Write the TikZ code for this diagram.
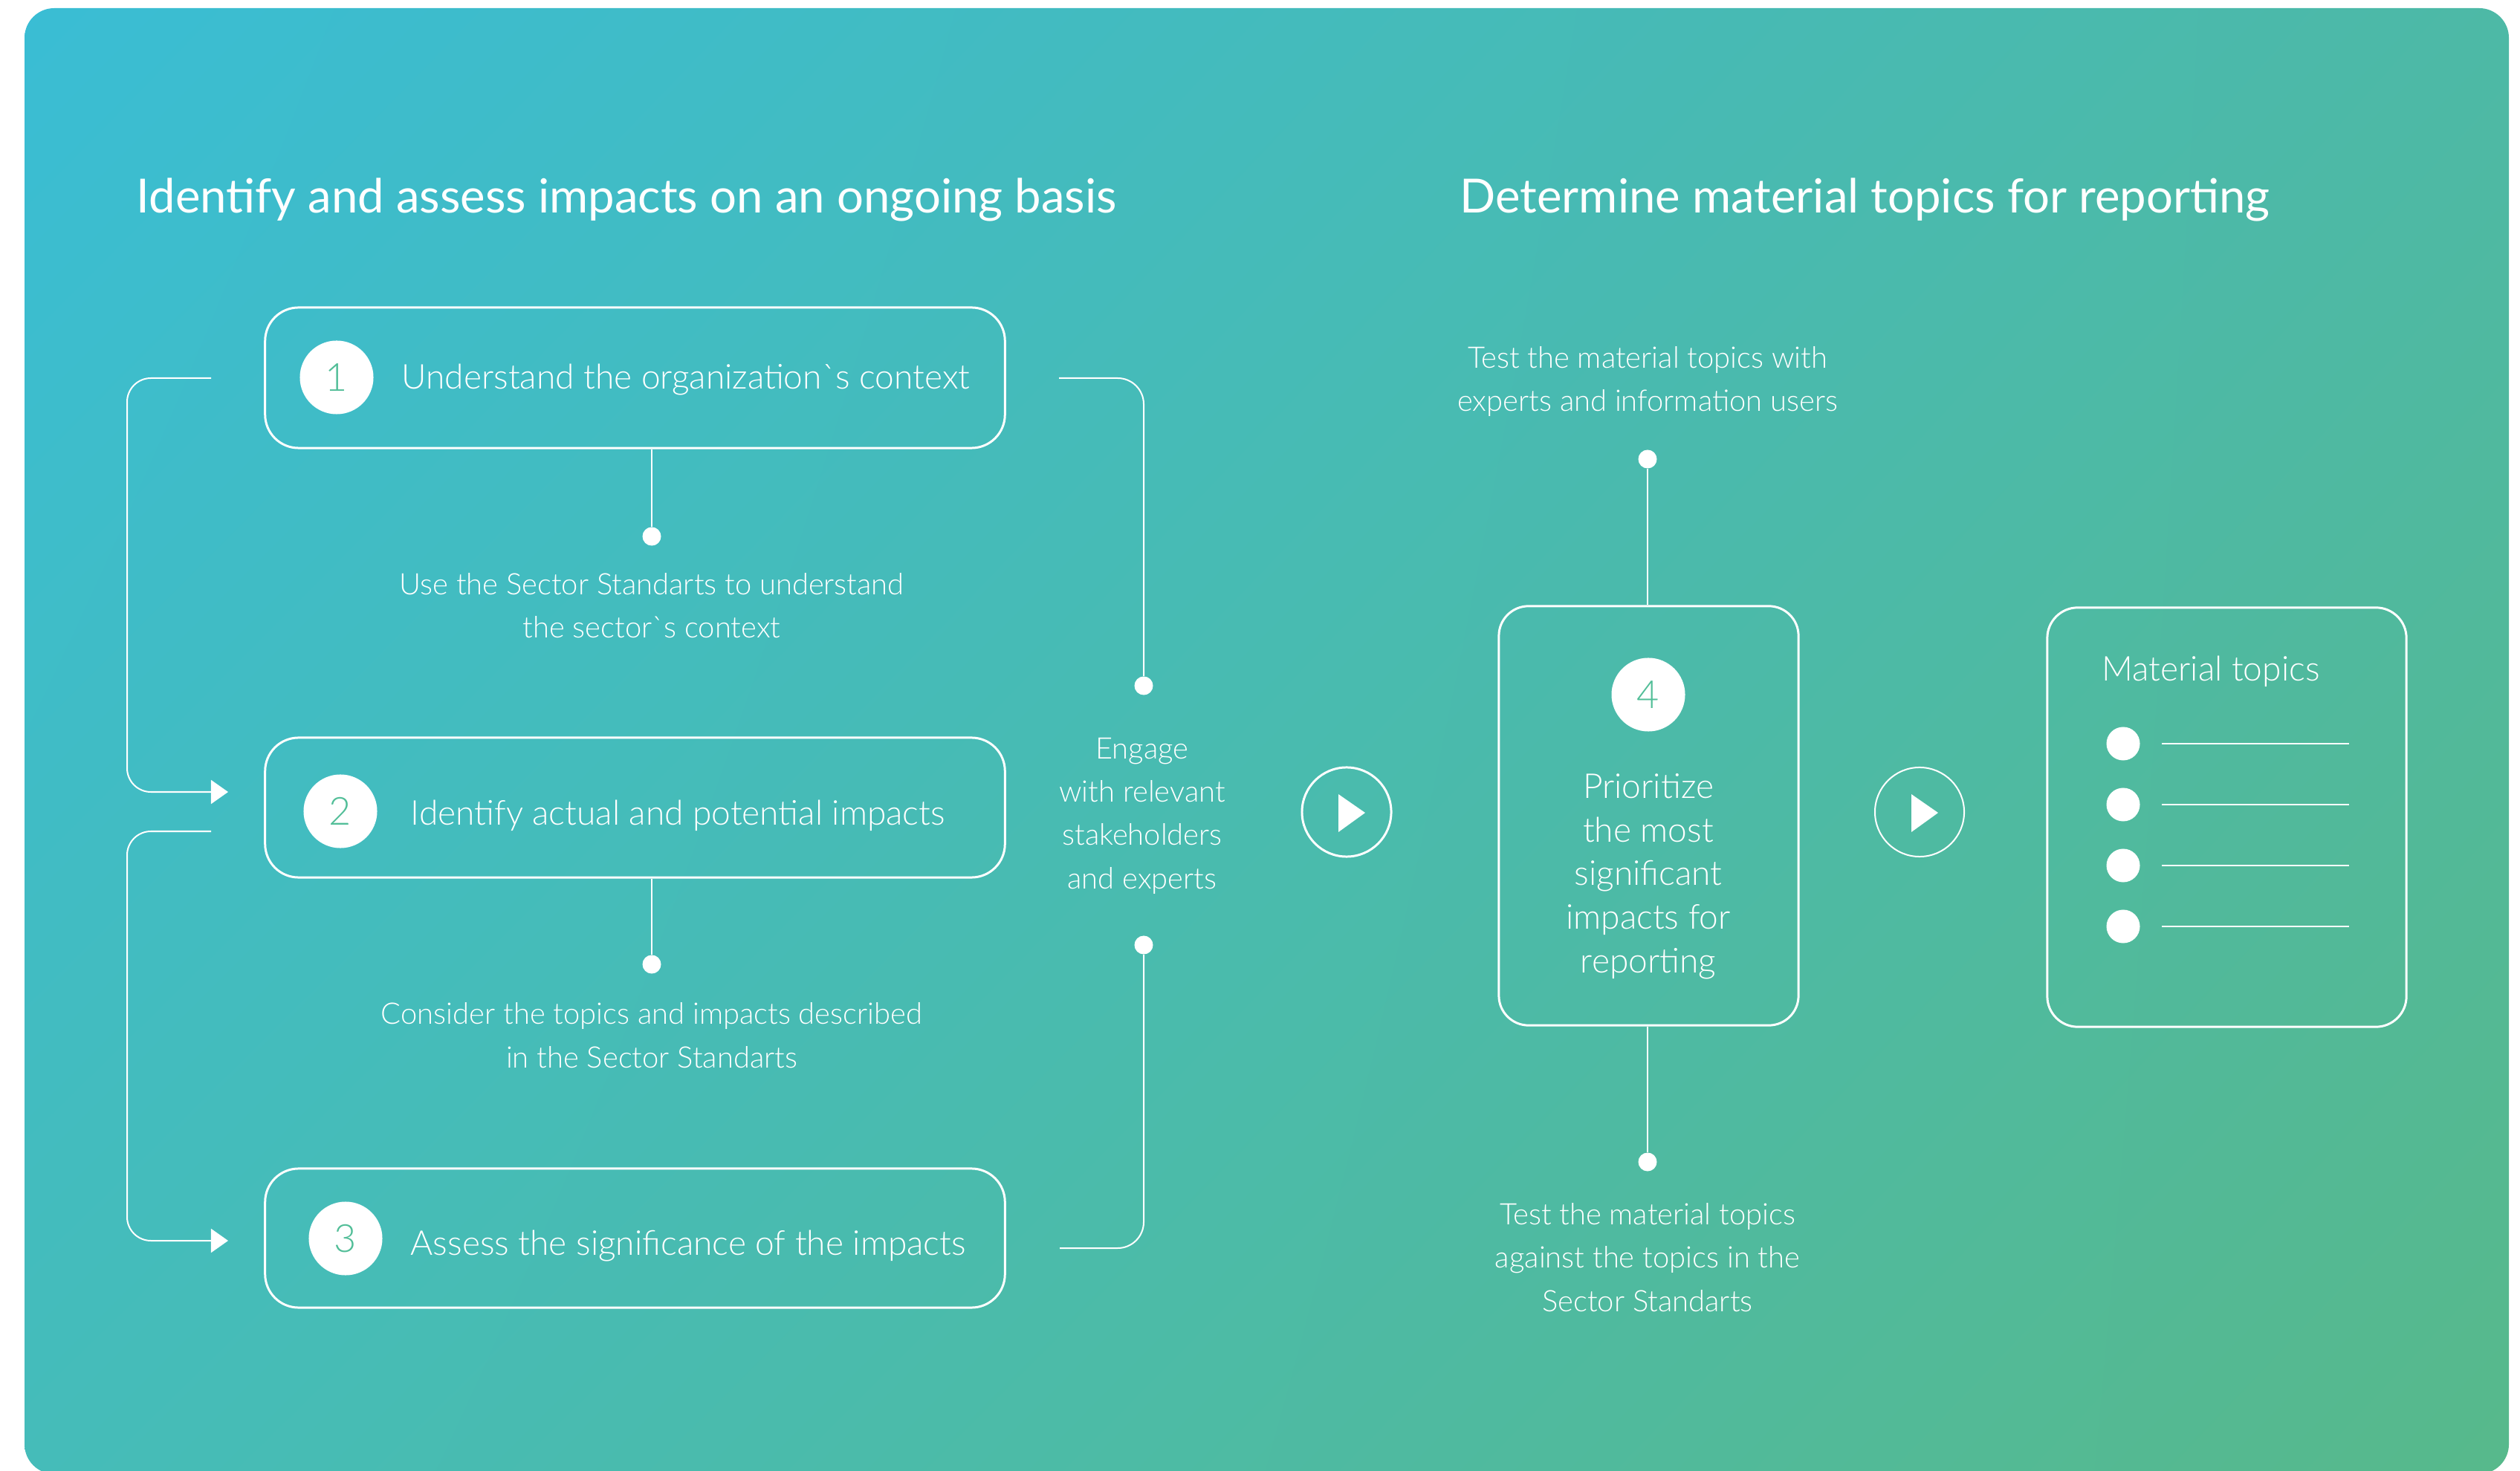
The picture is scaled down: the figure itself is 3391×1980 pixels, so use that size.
\documentclass[tikz,border=0pt]{standalone}
\usepackage{fontspec}
\setmainfont{Lato}[Ligatures=TeXOff]
\newfontfamily\lt{Lato Light}[Ligatures=TeXOff]
\usetikzlibrary{arrows.meta,shadings}
\definecolor{bgUL}{HTML}{3ABDD4}
\definecolor{bgUR}{HTML}{4DB9A6}
\definecolor{bgLL}{HTML}{45BCB9}
\definecolor{bgLR}{HTML}{57B98B}
\definecolor{numgreen}{HTML}{52BE98}
\begin{document}
\begin{tikzpicture}[x=0.01cm,y=-0.01cm,
  stepbox/.style={draw=white, line width=0.85pt, rounded corners=0.45cm, inner sep=0pt},
  numc/.style={circle, fill=white, minimum size=0.99cm, inner sep=0pt, text=numgreen, font=\lt\fontsize{14.8}{16}\selectfont},
  dotn/.style={circle, fill=white, minimum size=0.25cm, inner sep=0pt},
  bulletn/.style={circle, fill=white, minimum size=0.45cm, inner sep=0pt},
  conn/.style={draw=white, line width=0.57pt},
  small/.style={text=white, align=center, anchor=base, inner sep=0pt, font=\lt\fontsize{11.35}{16.5}\selectfont},
  boxtxt/.style={text=white, anchor=base west, inner sep=0pt, font=\lt\fontsize{13.1}{16}\selectfont},
  head/.style={text=white, anchor=base west, inner sep=0pt, font=\fontsize{18.03}{20}\selectfont},
  playc/.style={circle, draw=white, minimum size=1.2cm, inner sep=0pt},
  loopar/.style={conn, rounded corners=0.32cm, -{Triangle[length=0.23cm,width=0.32cm]}},
]
\useasboundingbox (0,0) rectangle (3391,1980);
\shade[upper left=bgUL, upper right=bgUR, lower left=bgLL, lower right=bgLR, rounded corners=0.4cm] (33,11) rectangle (3376,1984);

% headings
\node[head] (h1) at (183,287) {Identify and assess impacts on an ongoing basis};
\node[head] (h2) at (1964,287) {Determine material topics for reporting};

% left boxes
\node[stepbox, minimum width=9.95cm, minimum height=1.89cm] (b1) at (854.5,508.5) {};
\node[stepbox, minimum width=9.95cm, minimum height=1.88cm] (b2) at (854.5,1087) {};
\node[stepbox, minimum width=9.95cm, minimum height=1.87cm] (b3) at (854.5,1666.5) {};
\node[numc] (n1) at (453,508) {1};
\node[numc] (n2) at (458,1092) {2};
\node[numc] (n3) at (465,1667) {3};
\node[boxtxt] (t1) at (540,524) {Understand the organization`s context};
\node[boxtxt] (t2) at (552,1111) {Identify actual and potential impacts};
\node[boxtxt] (t3) at (552,1689) {Assess the significance of the impacts};

% sector standards notes (anchor = baseline of last line)
\node[dotn] (d1) at (877,722) {};
\node[dotn] (d2) at (877,1298) {};
\draw[conn] (d1) -- (d1 |- b1.south);
\draw[conn] (d2) -- (d2 |- b2.south);
\node[small] (s1) at (877,859) {Use the Sector Standarts to understand\\the sector`s context};
\node[small] (s2) at (877,1437) {Consider the topics and impacts described\\in the Sector Standarts};

% left loops
\coordinate (l1s) at (284,509);
\coordinate (l1e) at (307,1066);
\coordinate (l2s) at (284,1119);
\coordinate (l2e) at (307,1670);
\draw[loopar] (l1s) -- (171,509) -- (171,1066) -- (l1e);
\draw[loopar] (l2s) -- (171,1119) -- (171,1670) -- (l2e);

% right bracket
\coordinate (r1s) at (1425,509);
\coordinate (r2e) at (1426,1680);
\node[dotn] (e1) at (1539,923) {};
\node[dotn] (e2) at (1539,1272) {};
\draw[conn, rounded corners=0.35cm] (r1s) -- (1539,509) -- (e1);
\draw[conn, rounded corners=0.35cm] (e2) -- (1539,1680) -- (r2e);
\node[small] (eng) at (1537,1196) {Engage\\with relevant\\stakeholders\\and experts};

% play buttons
\node[playc, line width=0.85pt] (p1) at (1812,1093) {};
\fill[white] ([shift={(-11,-24)}]p1.center) -- ++(36,25) -- ++(-36,26) -- cycle;
\node[playc, line width=0.57pt] (p2) at (2583,1093) {};
\fill[white] ([shift={(-11,-24)}]p2.center) -- ++(36,25) -- ++(-36,26) -- cycle;

% step 4
\node[stepbox, rounded corners=0.4cm, minimum width=4.03cm, minimum height=5.64cm] (b4) at (2218.5,1098) {};
\node[numc] (n4) at (2218,935) {4};
\node[small, font=\lt\fontsize{13.1}{16.65}\selectfont] (t4) at (2218,1309) {Prioritize\\the most\\significant\\impacts for\\reporting};
\node[dotn] (d3) at (2217,618) {};
\node[dotn] (d4) at (2217,1564) {};
\draw[conn] (d3) -- (d3 |- b4.north);
\draw[conn] (d4) -- (d4 |- b4.south);
\node[small] (s3) at (2217,554) {Test the material topics with\\experts and information users};
\node[small] (s4) at (2217,1765) {Test the material topics\\against the topics in the\\Sector Standarts};

% material topics
\node[stepbox, rounded corners=0.41cm, minimum width=4.83cm, minimum height=5.64cm] (b5) at (2996.5,1100) {};
\node[boxtxt] (mt) at (2828,917) {Material topics};
\foreach \i/\yy in {1/1001,2/1083,3/1165,4/1247}{
  \node[bulletn] (m\i) at (2857,\yy) {};
  \coordinate (ma\i) at (2909,\yy);
  \coordinate (mb\i) at (3161,\yy);
  \draw[white, line width=0.45pt] (ma\i) -- (mb\i);
}
\end{tikzpicture}
\end{document}
